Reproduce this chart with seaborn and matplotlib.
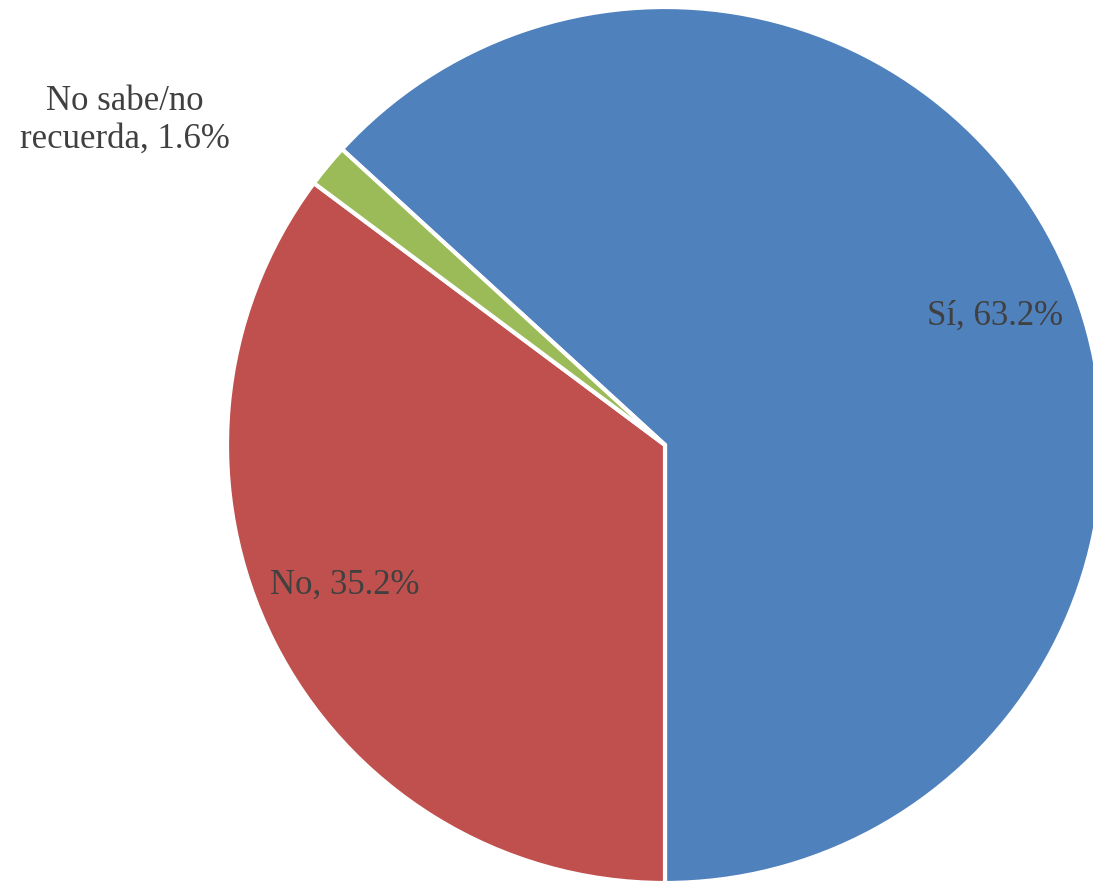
import matplotlib
matplotlib.use("Agg")
import matplotlib.pyplot as plt
import seaborn as sns

categories = ["Sí", "No", "No sabe/no\nrecuerda"]
values = [63.2, 35.2, 1.6]
label_texts = ["Sí, 63.2%", "No, 35.2%", "No sabe/no\nrecuerda, 1.6%"]
colors = ["#4F81BD", "#C0504D", "#9BBB59"]

sns.set_theme(style="white")
plt.rcParams['font.family'] = ['Liberation Serif', 'DejaVu Serif']

W, H = 1093, 884
fig = plt.figure(figsize=(W / 100, H / 100), dpi=100)
cx, cy, r = 665, 884 - 445, 438
ax = fig.add_axes([(cx - r) / W, (cy - r) / H, 2 * r / W, 2 * r / H])

start = -90 + values[0] / 100 * 360
ax.pie(values, colors=colors, startangle=start, counterclock=False, radius=1,
       wedgeprops=dict(edgecolor="white", linewidth=3, clip_on=False))
ax.set_xlim(-1, 1)
ax.set_ylim(-1, 1)
ax.set_aspect("equal")
ax.axis("off")

label_pos = [(0.753, 0.295), (-0.731, -0.320), (-1.233, 0.742)]
for txt, (x, y) in zip(label_texts, label_pos):
    ax.text(x, y, txt, ha="center", va="center", fontsize=25, color="#404040",
            linespacing=1.2, clip_on=False)

fig.savefig("out.png", dpi=100)
